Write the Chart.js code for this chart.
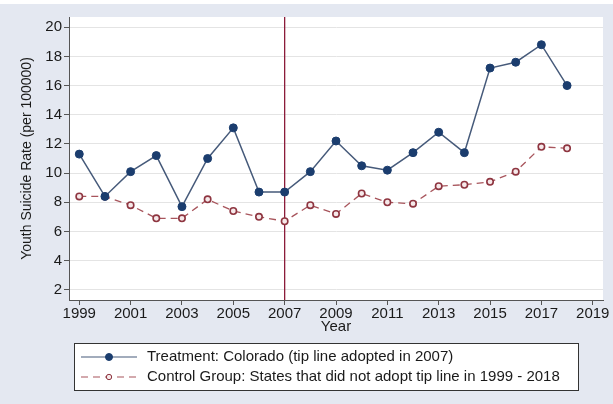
<!DOCTYPE html>
<html>
<head>
<meta charset="utf-8">
<script src="https://cdn.jsdelivr.net/npm/chart.js@4.4.1/dist/chart.umd.min.js"></script>
<style>
  html, body { margin: 0; padding: 0; background: #ffffff; }
  #wrap { width: 613px; height: 404px; }
</style>
</head>
<body>
<div id="wrap"><canvas id="rateChart" width="613" height="404"></canvas></div>
<script>
// values
const years = [1999, 2000, 2001, 2002, 2003, 2004, 2005, 2006, 2007, 2008,
               2009, 2010, 2011, 2012, 2013, 2014, 2015, 2016, 2017, 2018];
const treatment = [11.3, 8.4, 10.1, 11.2, 7.7, 11.0, 13.1, 8.7, 8.7, 10.1,
                   12.2, 10.5, 10.2, 11.4, 12.8, 11.4, 17.2, 17.6, 18.8, 16.0];
const control = [8.4, 8.4, 7.8, 6.9, 6.9, 8.2, 7.4, 7.0, 6.7, 7.8,
                 7.2, 8.6, 8.0, 7.9, 9.1, 9.2, 9.4, 10.1, 11.8, 11.7];
const xTicks = [1999, 2001, 2003, 2005, 2007, 2009, 2011, 2013, 2015, 2017, 2019];
const yTicks = [2, 4, 6, 8, 10, 12, 14, 16, 18, 20];
const adoptionYear = 2007;

const treatmentLabel = 'Treatment: Colorado (tip line adopted in 2007)';
const controlLabel = 'Control Group: States that did not adopt tip line in 1999 - 2018';

const NAVY = '#1b3d6e';
const NAVY_LINE = '#465a7a';
const MAROON = '#8e3540';
const BG = '#e4e8f1';
const FONT = '"Liberation Sans", Arial, sans-serif';

// gray page background + white plot region
const backgroundPlugin = {
    id: 'background',
    beforeDraw(chart) {
        const { ctx, chartArea } = chart;
        ctx.save();
        ctx.fillStyle = BG;
        ctx.fillRect(0, 4, chart.width, chart.height - 4);
        ctx.fillStyle = '#ffffff';
        ctx.fillRect(chartArea.left, chartArea.top, chartArea.right - chartArea.left, chartArea.bottom - chartArea.top);
        ctx.restore();
    }
};

// vertical line at the year the tip line was adopted
const adoptionLinePlugin = {
    id: 'adoptionLine',
    beforeDatasetsDraw(chart) {
        const { ctx, chartArea } = chart;
        const x = chart.scales.x.getPixelForValue(adoptionYear);
        ctx.save();
        ctx.strokeStyle = '#8b1c3a';
        ctx.lineWidth = 1.3;
        ctx.beginPath();
        ctx.moveTo(x, chartArea.top);
        ctx.lineTo(x, chartArea.bottom);
        ctx.stroke();
        ctx.restore();
    }
};

// boxed legend under the chart
const legendBoxPlugin = {
    id: 'legendBox',
    afterDraw(chart) {
        const { ctx } = chart;
        ctx.save();
        ctx.fillStyle = '#ffffff';
        ctx.fillRect(74.5, 343.5, 504, 47);
        ctx.strokeStyle = '#333333';
        ctx.lineWidth = 1;
        ctx.strokeRect(74.5, 343.5, 504, 47);

        const rows = [
            { y: 357, label: treatmentLabel, ds: chart.data.datasets[0] },
            { y: 377, label: controlLabel, ds: chart.data.datasets[1] }
        ];
        rows.forEach(r => {
            ctx.strokeStyle = r.ds.borderColor;
            ctx.lineWidth = 1.2;
            ctx.setLineDash(r.ds.borderDash || []);
            ctx.beginPath();
            ctx.moveTo(81, r.y);
            ctx.lineTo(137, r.y);
            ctx.stroke();
            ctx.setLineDash([]);
            ctx.beginPath();
            ctx.arc(109, r.y, r.ds.pointRadius - 0.5, 0, Math.PI * 2);
            ctx.fillStyle = r.ds.pointBackgroundColor;
            ctx.fill();
            ctx.strokeStyle = r.ds.pointBorderColor;
            ctx.lineWidth = 1;
            ctx.stroke();

            ctx.fillStyle = '#1a1a1a';
            ctx.font = '15px ' + FONT;
            ctx.textBaseline = 'middle';
            ctx.fillText(r.label, 147, r.y);
        });
        ctx.restore();
    }
};

const ctx = document.getElementById('rateChart').getContext('2d');
new Chart(ctx, {
    type: 'line',
    data: {
        datasets: [{
            label: treatmentLabel,
            data: years.map((y, i) => ({ x: y, y: treatment[i] })),
            borderColor: NAVY_LINE,
            borderWidth: 1.5,
            pointRadius: 4,
            pointBackgroundColor: NAVY,
            pointBorderColor: NAVY,
            pointBorderWidth: 1,
            tension: 0
        }, {
            label: controlLabel,
            data: years.map((y, i) => ({ x: y, y: control[i] })),
            borderColor: '#a8555c',
            borderWidth: 1.3,
            borderDash: [7, 5],
            pointRadius: 3.2,
            pointBackgroundColor: '#f6e9ea',
            pointBorderColor: MAROON,
            pointBorderWidth: 1.6,
            tension: 0
        }]
    },
    options: {
        responsive: false,
        animation: false,
        layout: { padding: { left: 15, right: 10, top: 17, bottom: 64 } },
        plugins: {
            legend: { display: false },
            tooltip: { enabled: false }
        },
        scales: {
            x: {
                type: 'linear',
                min: 1998.6,
                max: 2019.4,
                afterBuildTicks: scale => { scale.ticks = xTicks.map(v => ({ value: v })); },
                afterFit: scale => { scale.height = 40; scale.paddingLeft = 0; scale.paddingRight = 0; },
                ticks: {
                    color: '#1a1a1a',
                    font: { family: FONT, size: 15 },
                    padding: 0,
                    maxRotation: 0,
                    autoSkip: false,
                    callback: v => String(v)
                },
                grid: { drawOnChartArea: false, tickLength: 5, tickColor: '#555555' },
                border: { color: '#555555', width: 1 },
                title: {
                    display: true,
                    text: 'Year',
                    color: '#1a1a1a',
                    font: { family: FONT, size: 15 },
                    padding: { top: 0, bottom: 4 }
                }
            },
            y: {
                min: 1.3,
                max: 20.7,
                afterBuildTicks: scale => { scale.ticks = yTicks.map(v => ({ value: v })); },
                afterFit: scale => { scale.width = 54; },
                ticks: {
                    color: '#1a1a1a',
                    font: { family: FONT, size: 15 },
                    padding: 2
                },
                grid: { color: '#e4e4e4', lineWidth: 1, tickLength: 5, tickColor: '#555555' },
                border: { color: '#555555', width: 1 },
                title: {
                    display: true,
                    text: 'Youth Suicide Rate (per 100000)',
                    color: '#1a1a1a',
                    font: { family: FONT, size: 14 },
                    padding: { top: 4, bottom: 4 }
                }
            }
        }
    },
    plugins: [backgroundPlugin, adoptionLinePlugin, legendBoxPlugin]
});
</script>
</body>
</html>
